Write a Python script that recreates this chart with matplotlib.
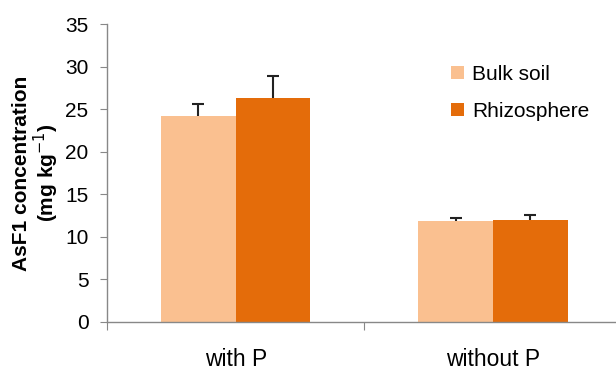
import matplotlib
matplotlib.use("Agg")
import matplotlib.pyplot as plt
import numpy as np

plt.rcParams['font.family'] = ['Liberation Sans', 'DejaVu Sans']

categories = ["with P", "without P"]
series_names = ["Bulk soil", "Rhizosphere"]
bulk = [24.2, 11.8]
bulk_err = [1.4, 0.4]
rhizo = [26.35, 11.95]
rhizo_err = [2.5, 0.6]
colors = ["#FAC090", "#E46C0A"]

fig = plt.figure(figsize=(6.16, 3.70), dpi=100)
ax = fig.add_axes([0.174, 0.130, 0.835, 0.805])

x = np.arange(len(categories))
w = 0.29
for off, vals, errs, col, name in [(-w/2, bulk, bulk_err, colors[0], series_names[0]),
                                   (w/2, rhizo, rhizo_err, colors[1], series_names[1])]:
    pos = x + off
    ax.bar(pos, vals, w, color=col, label=name, zorder=2)
    tops = np.array(vals) + np.array(errs)
    ax.vlines(pos, vals, tops, color="#222222", linewidth=1.5, zorder=3)
    ax.plot(pos, tops, linestyle='none', marker='_', markersize=8,
            markeredgewidth=1.5, color="#222222", zorder=3)

ax.set_ylim(0, 35)
ax.set_xlim(-0.5, 1.5)
ax.set_yticks(range(0, 36, 5))
ax.set_xticks([-0.5, 0.5, 1.5])
ax.set_xticklabels([])
ax.set_xticks(x, minor=True)
ax.set_xticklabels(categories, minor=True, fontsize=16.5)
ax.tick_params(axis='x', which='minor', length=0, pad=19)
ax.tick_params(axis='x', which='major', direction='out', length=6, color='#888888')
ax.tick_params(axis='y', direction='out', length=5, color='#888888', labelsize=15, pad=8.5)

for s in ['top', 'right']:
    ax.spines[s].set_visible(False)
for s in ['left', 'bottom']:
    ax.spines[s].set_color('#888888')
    ax.spines[s].set_linewidth(1.0)

ax.set_ylabel("AsF1 concentration\n(mg kg$^{-1}$)", fontsize=15, fontweight='bold',
              labelpad=3, linespacing=1.05)

leg = ax.legend(loc='upper left', bbox_to_anchor=(0.632, 0.925), frameon=False,
                fontsize=15, handlelength=0.6, handleheight=0.6, handletextpad=0.4,
                labelspacing=0.85)

fig.savefig("out.png", dpi=100)
